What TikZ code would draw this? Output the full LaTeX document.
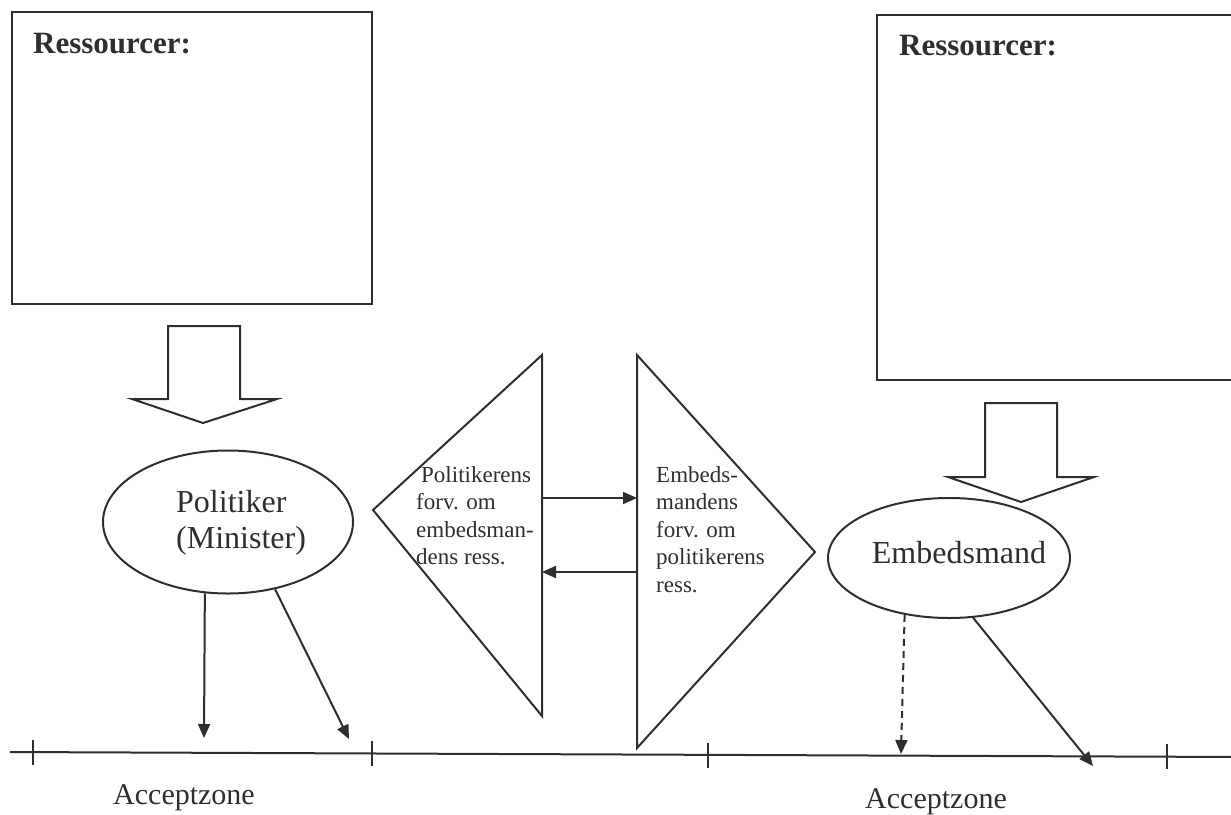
\documentclass[tikz,border=0pt]{standalone}
\usepackage{fontspec}
\setmainfont{Liberation Serif}
\usetikzlibrary{arrows.meta,shapes.geometric}
\definecolor{ink}{HTML}{2E2E2E}
\tikzset{
  ln/.style={draw=ink, line width=2pt},
  tip/.style={-{Triangle[length=14pt,width=12pt]}},
  bigtxt/.style={inner sep=0pt, text=ink, font=\fontsize{32}{36}\selectfont},
  acctxt/.style={inner sep=0pt, text=ink, font=\fontsize{30}{35}\selectfont},
  smalltxt/.style={inner sep=0pt, text=ink, align=left, font=\fontsize{23}{27.5}\selectfont},
  restxt/.style={inner sep=0pt, text=ink, font=\bfseries\fontsize{31}{36}\selectfont},
  oval/.style={ln, ellipse, inner sep=0pt},
}
\begin{document}
\begin{tikzpicture}[x=1pt,y=-1pt]
\useasboundingbox (0,0) rectangle (1231,814);
% resource boxes
\draw[ln] (12,12) rectangle (372,304);
\node[restxt, anchor=base west] (res1) at (33,53) {Ressourcer:};
\draw[ln] (1240,15) -- (877,15) -- (877,380) -- (1240,380);
\node[restxt, anchor=base west] (res2) at (899,55) {Ressourcer:};
% block arrows
\draw[ln, line join=miter] (168,326) -- (240,326) -- (240,399) -- (277,399) -- (203,423) -- (132,399) -- (168,399) -- cycle;
\draw[ln, line join=miter] (985,403) -- (1057,403) -- (1057,477) -- (1094,477) -- (1021,502) -- (948,477) -- (985,477) -- cycle;
% ellipses
\node[oval, minimum width=250pt, minimum height=143pt] (pol) at (228,522) {};
\node[bigtxt, align=left, anchor=north west] (poltxt) at (176,490) {Politiker\\(Minister)};
\node[oval, minimum width=242pt, minimum height=120pt] (emb) at (949,558) {};
\node[bigtxt, anchor=base] (embtxt) at (959,563) {Embedsmand};
% triangles
\draw[ln, line join=miter] (542,355) -- (373,510) -- (542,716) -- cycle;
\draw[ln, line join=miter] (637,355) -- (815,552) -- (637,748) -- cycle;
\coordinate (lt1) at (542,498);
\coordinate (rt1) at (637,498);
\coordinate (lt2) at (542,572);
\coordinate (rt2) at (637,572);
\draw[ln, tip] (lt1) -- (rt1);
\draw[ln, tip] (rt2) -- (lt2);
\node[smalltxt, anchor=north west] (ptri) at (416,466) {\hspace{5pt}Politikerens\\forv. om\\embedsman-\\dens ress.};
\node[smalltxt, anchor=north west] (etri) at (656,466) {Embeds-\\mandens\\forv. om\\politikerens\\ress.};
% axis
\coordinate (ax0) at (10,752);
\coordinate (ax1) at (1240,757);
\draw[ln] (ax0) -- (ax1);
\draw[ln] (33,740) -- (33,765);
\draw[ln] (372,741) -- (372,766);
\draw[ln] (708,743) -- (708,768);
\draw[ln] (1167,744) -- (1167,769);
% acceptance arrows
\coordinate (p1) at (204,738);
\coordinate (p2) at (349,739);
\coordinate (e1) at (901,754);
\coordinate (e2) at (1093,766);
\draw[ln, tip] (pol.252) -- (p1);
\draw[ln, tip] (pol.305) -- (p2);
\draw[ln, tip, dash pattern=on 7pt off 5pt] (emb.232) -- (e1);
\draw[ln, tip] (emb.292) -- (e2);
% labels
\node[acctxt, anchor=base] (acc1) at (184,804) {Acceptzone};
\node[acctxt, anchor=base] (acc2) at (936,808) {Acceptzone};
\end{tikzpicture}
\end{document}
